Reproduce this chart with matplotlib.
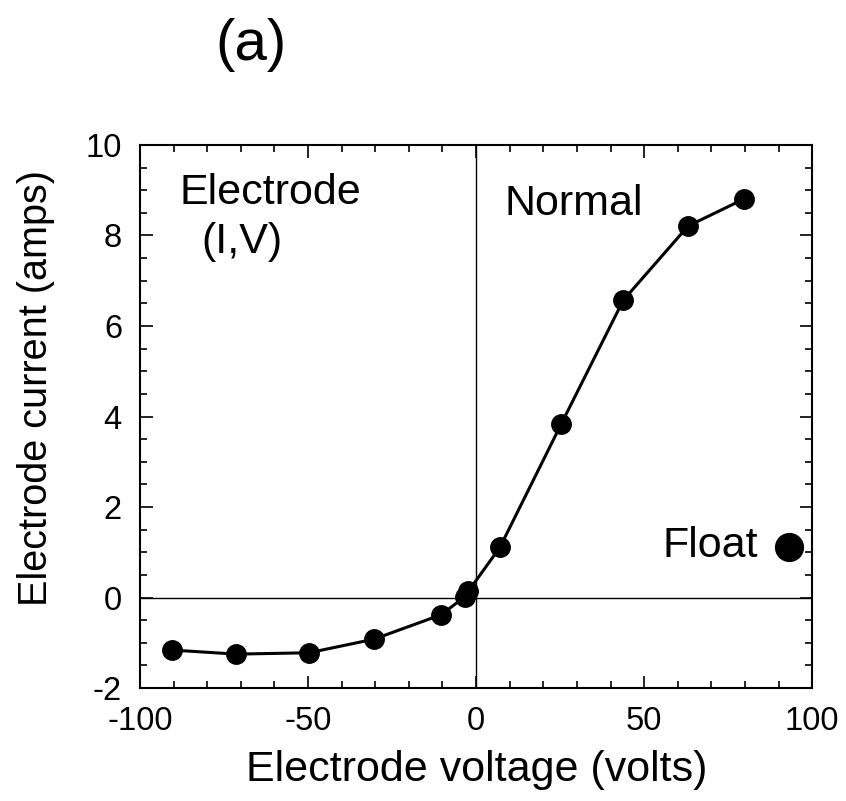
import matplotlib
matplotlib.use('Agg')
import matplotlib.pyplot as plt
from matplotlib.ticker import MultipleLocator

plt.rcParams['font.family'] = ['Liberation Sans', 'DejaVu Sans']
plt.rcParams['axes.unicode_minus'] = False

# electrode I-V sweep, volts / amps
voltage = [-90.5, -71.4, -49.7, -30.4, -10.4, -3.3, -2.3, 7.1, 25.3, 43.8, 63.1, 79.8]
current = [-1.16, -1.25, -1.22, -0.92, -0.38, 0.02, 0.14, 1.11, 3.83, 6.57, 8.21, 8.81]

# floating electrode
floatVoltage = [93.2]
floatCurrent = [1.11]

fig = plt.figure(figsize=(8.46, 8.01), dpi=100)
ax = fig.add_axes([0.1655, 0.141, 0.7945, 0.678])

ax.axhline(0, color='black', lw=1.0, zorder=1)
ax.axvline(0, color='black', lw=1.0, zorder=1)

ax.plot(voltage, current, '-o', color='black', lw=2.2, markersize=14, zorder=3)
ax.plot(floatVoltage, floatCurrent, 'o', color='black', markersize=20, zorder=3)

ax.set_xlim(-100, 100)
ax.set_ylim(-2, 10)
ax.xaxis.set_major_locator(MultipleLocator(50))
ax.xaxis.set_minor_locator(MultipleLocator(10))
ax.yaxis.set_major_locator(MultipleLocator(2))
ax.yaxis.set_minor_locator(MultipleLocator(0.5))
ax.tick_params(which='both', direction='in', top=True, right=True, width=1.2)
ax.tick_params(which='major', length=9, labelsize=23.5, pad=13)
ax.tick_params(which='minor', length=5)
for s in ax.spines.values():
    s.set_linewidth(1.5)

# axis titles placed by hand on the figure
fig.text(477 / 846, 1 - 770 / 801, 'Electrode voltage (volts)', fontsize=31,
         ha='center', va='center')
fig.text(36 / 846, 1 - 388 / 801, 'Electrode current (amps)', fontsize=28.5,
         ha='center', va='center', rotation=90)

ax.text(-61.3, 8.94, 'Electrode', fontsize=31, ha='center', va='center')
ax.text(-69.6, 7.85, '(I,V)', fontsize=31, ha='center', va='center')
ax.text(29.2, 8.69, 'Normal', fontsize=31, ha='center', va='center')
ax.text(69.6, 1.15, 'Float', fontsize=31, ha='center', va='center')

fig.text(251 / 846, 1 - 45 / 801, '(a)', fontsize=42, ha='center', va='center')

fig.savefig('out.png', dpi=100)
